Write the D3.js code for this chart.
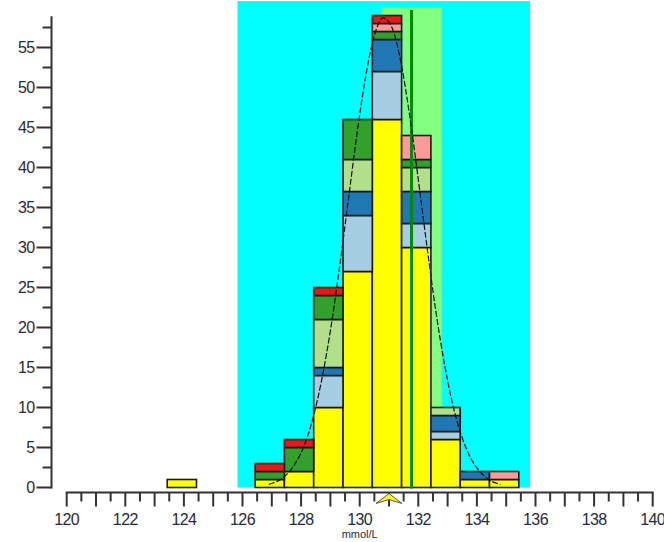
<!DOCTYPE html>
<html>
<head>
<meta charset="utf-8">
<script src="https://cdn.jsdelivr.net/npm/d3@7"></script>
<style>
  body { margin: 0; background: #fff; }
  svg { display: block; }
</style>
</head>
<body>
<div id="chart"></div>
<script>
const width = 664;
const height = 542;

// histogram bins (left edge, width 1 mmol/L)
const binStarts = [123.43, 126.43, 127.43, 128.43, 129.43, 130.43, 131.43, 132.43, 133.43, 134.43];
const binWidth = 1;

// stacked counts, bottom to top
const yellow     = [1, 1, 2, 10, 27, 46, 30, 6, 1, 1];
const lightBlue  = [0, 0, 0,  4,  7,  6,  3, 1, 0, 0];
const darkBlue   = [0, 0, 0,  1,  3,  4,  4, 2, 1, 0];
const lightGreen = [0, 0, 0,  6,  4,  0,  3, 1, 0, 0];
const darkGreen  = [0, 1, 3,  3,  5,  1,  1, 0, 0, 0];
const pink       = [0, 0, 0,  0,  0,  1,  3, 0, 0, 1];
const red        = [0, 1, 1,  1,  0,  1,  0, 0, 0, 0];

// fitted curve
const curveX = [126.9, 127.2, 127.5, 127.8, 128.1, 128.4, 128.7, 129.0, 129.3, 129.6, 129.9, 130.2, 130.5, 130.8,
                131.1, 131.4, 131.7, 132.0, 132.3, 132.6, 132.9, 133.2, 133.5, 133.8, 134.1, 134.4, 134.8];
const curveY = [0.4, 0.8, 1.6, 3.0, 5.2, 8.6, 13.4, 19.6, 27.2, 35.6, 44.0, 51.3, 56.5, 58.7,
                57.5, 53.3, 46.6, 38.5, 30.0, 22.0, 15.3, 10.0, 6.2, 3.6, 2.0, 1.0, 0.4];

// background ranges and markers
const outerRange = [125.83, 135.81];
const outerTop = 60.8;
const innerRange = [130.75, 132.8];
const innerTop = 60;
const targetValue = 131.77;
const targetTop = 59.7;
const meanValue = 131.0;

const xTicksMajor = d3.range(120, 141, 2);
const yTicksMajor = d3.range(0, 56, 5);
const yAxisTop = 58.9;

const keys = ['yellow', 'lightBlue', 'darkBlue', 'lightGreen', 'darkGreen', 'pink', 'red'];
const colors = {
  yellow: '#ffff00', lightBlue: '#a6cee3', darkBlue: '#1f78b4', lightGreen: '#b2df8a',
  darkGreen: '#33a02c', pink: '#fb9a99', red: '#e31a1c'
};
const series = { yellow, lightBlue, darkBlue, lightGreen, darkGreen, pink, red };

const table = binStarts.map((x0, i) => {
  const row = { x0 };
  keys.forEach(k => row[k] = series[k][i]);
  return row;
});

const x = d3.scaleLinear().domain([120, 140]).range([66.7, 652.7]);
const y = d3.scaleLinear().domain([0, 60]).range([487.5, 7.5]);

const svg = d3.select('#chart').append('svg')
  .attr('width', width)
  .attr('height', height)
  .attr('font-family', '"Liberation Sans", Arial, sans-serif');

// background bands
svg.append('rect')
  .attr('x', x(outerRange[0]))
  .attr('width', x(outerRange[1]) - x(outerRange[0]))
  .attr('y', y(outerTop))
  .attr('height', y(0) - y(outerTop))
  .attr('fill', '#00ffff');

svg.append('rect')
  .attr('x', x(innerRange[0]))
  .attr('width', x(innerRange[1]) - x(innerRange[0]))
  .attr('y', y(innerTop))
  .attr('height', y(0) - y(innerTop))
  .attr('fill', '#80ff80');

// stacked bars
const stacked = d3.stack().keys(keys)(table);
stacked.forEach(layer => {
  svg.append('g')
    .selectAll('rect')
    .data(layer.filter(d => d[1] > d[0]))
    .join('rect')
      .attr('x', d => x(d.data.x0))
      .attr('width', d => x(d.data.x0 + binWidth) - x(d.data.x0))
      .attr('y', d => y(d[1]))
      .attr('height', d => y(d[0]) - y(d[1]))
      .attr('fill', colors[layer.key])
      .attr('stroke', '#1a1a1a')
      .attr('stroke-width', 1.6);
});

// target line
svg.append('line')
  .attr('x1', x(targetValue)).attr('x2', x(targetValue))
  .attr('y1', y(targetTop)).attr('y2', y(0) + 1)
  .attr('stroke', '#008a00')
  .attr('stroke-width', 3);

// fitted curve
const line = d3.line()
  .x(d => x(d[0]))
  .y(d => y(d[1]))
  .curve(d3.curveMonotoneX);
svg.append('path')
  .datum(curveX.map((v, i) => [v, curveY[i]]))
  .attr('d', line)
  .attr('fill', 'none')
  .attr('stroke', '#111')
  .attr('stroke-width', 1.2)
  .attr('stroke-dasharray', '6,2');

// y axis
const yAxisX = 51.5;
const yAxis = svg.append('g').attr('transform', `translate(${yAxisX},0)`);
yAxis.append('line')
  .attr('y1', y(0) + 1).attr('y2', y(yAxisTop))
  .attr('stroke', '#333').attr('stroke-width', 2);
yAxis.selectAll('.minor')
  .data(d3.range(2.5, yAxisTop, 5))
  .join('line')
    .attr('x1', -9).attr('x2', 0)
    .attr('y1', d => y(d)).attr('y2', d => y(d))
    .attr('stroke', '#333').attr('stroke-width', 2);
yAxis.selectAll('.major')
  .data(yTicksMajor)
  .join('line')
    .attr('x1', -15).attr('x2', 0)
    .attr('y1', d => y(d)).attr('y2', d => y(d))
    .attr('stroke', '#333').attr('stroke-width', 2);
yAxis.selectAll('text')
  .data(yTicksMajor)
  .join('text')
    .attr('x', -17)
    .attr('y', d => y(d))
    .attr('dy', '0.36em')
    .attr('text-anchor', 'end')
    .attr('font-size', 16)
    .attr('letter-spacing', -0.6)
    .attr('fill', '#2a2a3a')
    .text(d => d);

// x axis
const xAxisY = 492.5;
const xAxis = svg.append('g').attr('transform', `translate(0,${xAxisY})`);
xAxis.append('line')
  .attr('x1', x(120) - 1).attr('x2', x(140) + 1)
  .attr('stroke', '#333').attr('stroke-width', 2);
xAxis.selectAll('.minor')
  .data(d3.range(120.5, 140, 1))
  .join('line')
    .attr('x1', d => x(d)).attr('x2', d => x(d))
    .attr('y1', 0).attr('y2', 9)
    .attr('stroke', '#333').attr('stroke-width', 2);
xAxis.selectAll('.major')
  .data(d3.range(120, 141, 1))
  .join('line')
    .attr('x1', d => x(d)).attr('x2', d => x(d))
    .attr('y1', 0).attr('y2', 14)
    .attr('stroke', '#333').attr('stroke-width', 2);
xAxis.selectAll('text')
  .data(xTicksMajor)
  .join('text')
    .attr('x', d => x(d))
    .attr('y', 32)
    .attr('text-anchor', 'middle')
    .attr('font-size', 16)
    .attr('letter-spacing', -0.6)
    .attr('fill', '#2a2a3a')
    .text(d => d);
xAxis.append('text')
  .attr('x', (x(120) + x(140)) / 2)
  .attr('y', 45)
  .attr('text-anchor', 'middle')
  .attr('font-size', 11)
  .attr('fill', '#2a2a3a')
  .text('mmol/L');

// mean marker below the axis
const mx = x(meanValue);
svg.append('path')
  .attr('d', `M${mx},${xAxisY + 1} L${mx + 13},${xAxisY + 11} L${mx},${xAxisY + 7} L${mx - 13},${xAxisY + 11} Z`)
  .attr('fill', '#ffff00')
  .attr('stroke', '#555')
  .attr('stroke-width', 1);
</script>
</body>
</html>
